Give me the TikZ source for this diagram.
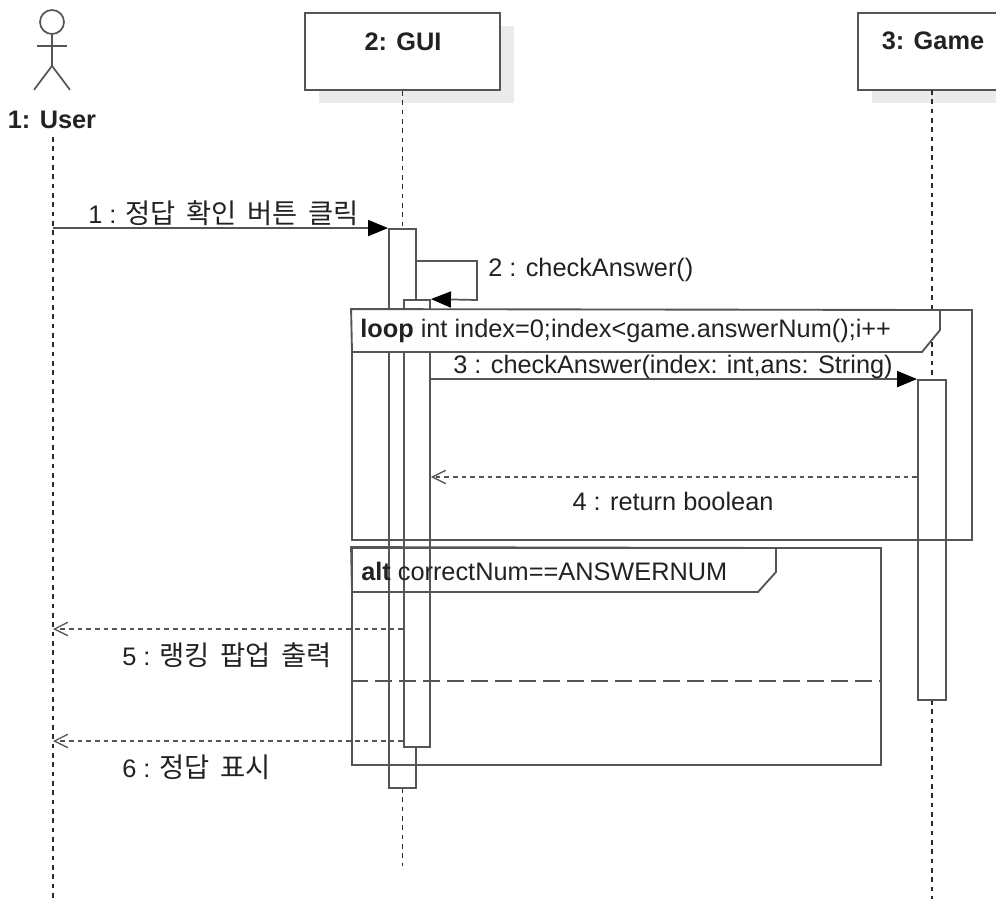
\documentclass[tikz,border=0pt]{standalone}
\usepackage{fontspec}
\setmainfont{Liberation Sans}
\newfontfamily\kr[WordSpace=1.7,Scale=1.08]{Noto Sans CJK KR}
\usetikzlibrary{arrows.meta,fit,calc}
\definecolor{lc}{HTML}{555555}
\definecolor{dk}{HTML}{2A2A2A}
\definecolor{tc}{HTML}{222222}
\definecolor{sh}{HTML}{EBEBEB}
\newcommand\fs{\fontsize{19}{23}\selectfont}
\begin{document}
\begin{tikzpicture}[x=0.75pt,y=-0.75pt,
  headbox/.style={draw=lc, line width=1.4pt, fill=white, inner sep=0pt},
  bar/.style={draw=lc, line width=1.4pt, fill=white, inner sep=0pt},
  life/.style={dk, line width=1.2pt, dash pattern=on 3.5pt off 3.5pt},
  frame/.style={draw=lc, line width=1.4pt, inner sep=0pt},
  tag/.style={draw=lc, line width=1.4pt, fill=white},
  sep/.style={lc, line width=1.4pt, dash pattern=on 13pt off 5pt},
  msg/.style={lc, line width=1.3pt, -{Triangle[length=15pt,width=12pt,color=black]}},
  ret/.style={lc, line width=1.3pt, dash pattern=on 3.5pt off 3pt, -{Straight Barb[length=10pt,width=10pt,line width=1pt]}},
  actor/.style={lc, line width=1.3pt},
  txt/.style={text=tc, inner sep=0pt, font=\fs},
  ttl/.style={text=tc, inner sep=0pt, font=\fs\bfseries}]
\clip (0,0) rectangle (996,899);
\fill[white] (0,0) rectangle (996,899);

% actor
\node[circle, draw=lc, line width=1.3pt, minimum size=18pt, inner sep=0pt] (head) at (52,22) {};
\draw[actor] (head.south) -- ++(0,31) coordinate (hip);
\draw[actor] ($(head.south)+(-15,11)$) coordinate (armL) -- ++(30,0) coordinate (armR);
\draw[actor] (hip) -- ++(-18,24) coordinate (legL);
\draw[actor] (hip) -- ++(18,24) coordinate (legR);
\node[ttl] (userT) at (52,120) {1: User};
\coordinate (uL) at (53,137);
\coordinate (uB) at (53,899);

% heads
\fill[sh] (319,26) rectangle (514,103);
\node[headbox, fit={(305,13) (500,90)}] (gui) {};
\node[ttl] (guiT) at (403,42) {2: GUI};
\fill[sh] (872,26) rectangle (1012,103);
\node[headbox, fit={(858,13) (1010,90)}] (game) {};
\node[ttl] (gameT) at (933,41) {3: Game};

% lifelines
\draw[life] (uL) -- (uB);
\coordinate (guiEnd) at (402.5,866);
\draw[life] (gui.south) -- (402.5,229);
\draw[life] (402.5,788) -- (guiEnd);
\coordinate (gTop) at (932,90);
\coordinate (gEnd) at (932,899);
\draw[life] (gTop) -- (932,380);
\draw[life] (932,700) -- (gEnd);

% activation bars
\node[bar, fit={(389,229) (416,788)}] (guiA) {};
\node[bar, fit={(404,300) (430,747)}] (guiB) {};
\node[bar, fit={(918,380) (946,700)}] (gameA) {};

% message 1
\draw[msg] (uL |- guiA.north west) -- (guiA.north west);
\node[txt, anchor=west] (l1) at (88,213) {1 : {\kr 정답 확인 버튼 클릭}};

% message 2 (self call)
\draw[msg] (guiA.east |- 0,261) -- (477,261) -- (477,300) -- (guiB.north east);
\node[txt, anchor=west] (l2) at (488,270) {2 : checkAnswer()};

% loop frame
\node[frame, fit={(352,310) (972,540)}] (loopF) {};
\draw[tag] (loopF.north west) -- (940,310) -- (940,330) -- (922,352) -- (352,352) -- cycle;
\node[txt, anchor=west] (loopT) at (360,331) {\textbf{loop} int index=0;index<game.answerNum();i++};

% message 3
\draw[msg] (guiB.east |- gameA.north west) -- (gameA.north west);
\node[txt] (l3) at (673,367) {3 : checkAnswer(index: int,ans: String)};

% message 4
\draw[ret] (gameA.west |- 0,477) -- (guiB.east |- 0,477);
\node[txt] (l4) at (673,501) {4 : return boolean};

% alt frame
\node[frame, fit={(352,548) (881,765)}] (altF) {};
\draw[tag, fill=none] (altF.north west) -- (776,548) -- (776,572) -- (758,592) -- (352,592) -- cycle;
\node[txt, anchor=west] (altT) at (361,571) {\textbf{alt} correctNum==ANSWERNUM};
\draw[sep] (altF.west |- 0,681) -- (altF.east |- 0,681);

% message 5
\draw[ret] (guiB.west |- 0,629) -- (uL |- 0,629);
\node[txt, anchor=west] (l5) at (122,655) {5 : {\kr 랭킹 팝업 출력}};

% message 6
\draw[ret] (guiB.west |- 0,741) -- (uL |- 0,741);
\node[txt, anchor=west] (l6) at (122,767) {6 : {\kr 정답 표시}};
\end{tikzpicture}
\end{document}
